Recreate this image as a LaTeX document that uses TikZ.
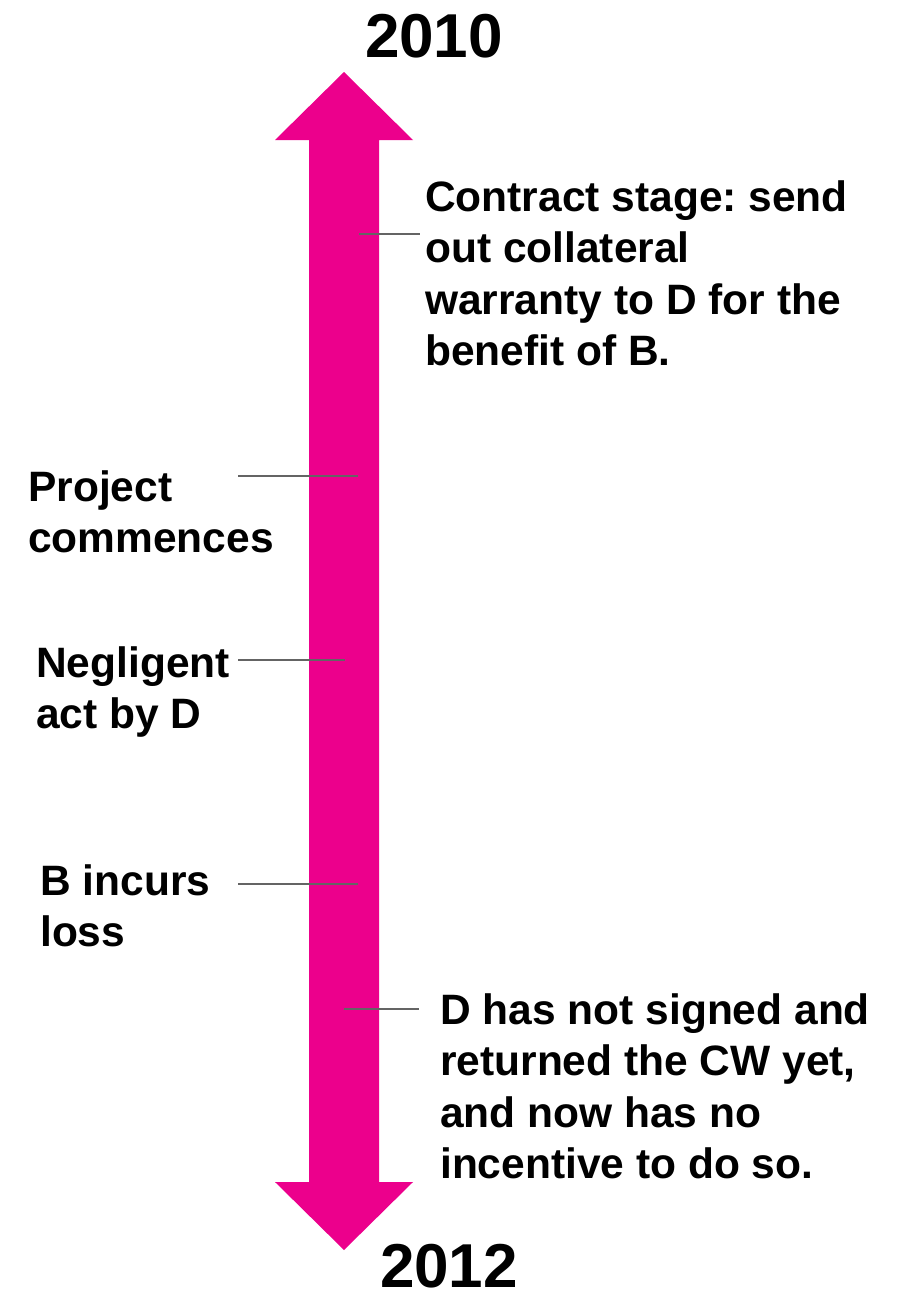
\documentclass[tikz,border=0pt]{standalone}
\usepackage{fontspec}
\setmainfont{Liberation Sans}
\frenchspacing
% left-aligned stack of lines whose baseline is that of the first line
\newcommand\leftstack[1]{\vtop{\let\\\cr\halign{##\hfil\cr#1\crcr}}}
\definecolor{arrowpink}{RGB}{236,0,140}
\definecolor{tickgray}{RGB}{100,100,100}
\tikzset{
  label/.style={anchor=base west, inner sep=0pt,
    font=\bfseries\fontsize{42.5}{51.5}\selectfont},
  year/.style={anchor=base, inner sep=0pt,
    font=\bfseries\fontsize{62}{70}\selectfont},
  tick/.style={draw=tickgray, line width=1.3pt},
}
\begin{document}
\begin{tikzpicture}[x=1pt,y=-1pt]
\useasboundingbox[fill=white] (0,0) rectangle (902,1293);

% double-headed timeline arrow
\fill[arrowpink] (344,72) -- (413,140) -- (379,140) -- (379,1182) -- (413,1182)
  -- (344,1250) -- (275,1182) -- (309,1182) -- (309,140) -- (275,140) -- cycle;

% years
\node[year] (y2010) at (434,57) {2010};
\node[year] (y2012) at (449,1287) {2012};

% events
\node[label] (contract) at (425,211) {\leftstack{Contract stage: send\\out collateral\\warranty to D for the\\benefit of B.}};
\node[label] (project) at (28,501) {\leftstack{Project\\commences}};
\node[label] (neglig) at (36,677) {\leftstack{Negligent\\act by D}};
\node[label] (loss) at (40,895) {\leftstack{B incurs\\loss}};
\node[label] (unsigned) at (440,1024) {\leftstack{D has not signed and\\returned the CW yet,\\and now has no\\incentive to do so.}};

% tick marks joining events to the timeline
\coordinate (c1a) at (359,234); \coordinate (c1b) at (420,234);
\coordinate (p1a) at (238,476); \coordinate (p1b) at (358,476);
\coordinate (n1a) at (238,660); \coordinate (n1b) at (345,660);
\coordinate (l1a) at (238,884); \coordinate (l1b) at (358,884);
\coordinate (u1a) at (344,1009); \coordinate (u1b) at (419,1009);
\draw[tick] (c1a) -- (c1b);
\draw[tick] (p1a) -- (p1b);
\draw[tick] (n1a) -- (n1b);
\draw[tick] (l1a) -- (l1b);
\draw[tick] (u1a) -- (u1b);
\end{tikzpicture}
\end{document}
